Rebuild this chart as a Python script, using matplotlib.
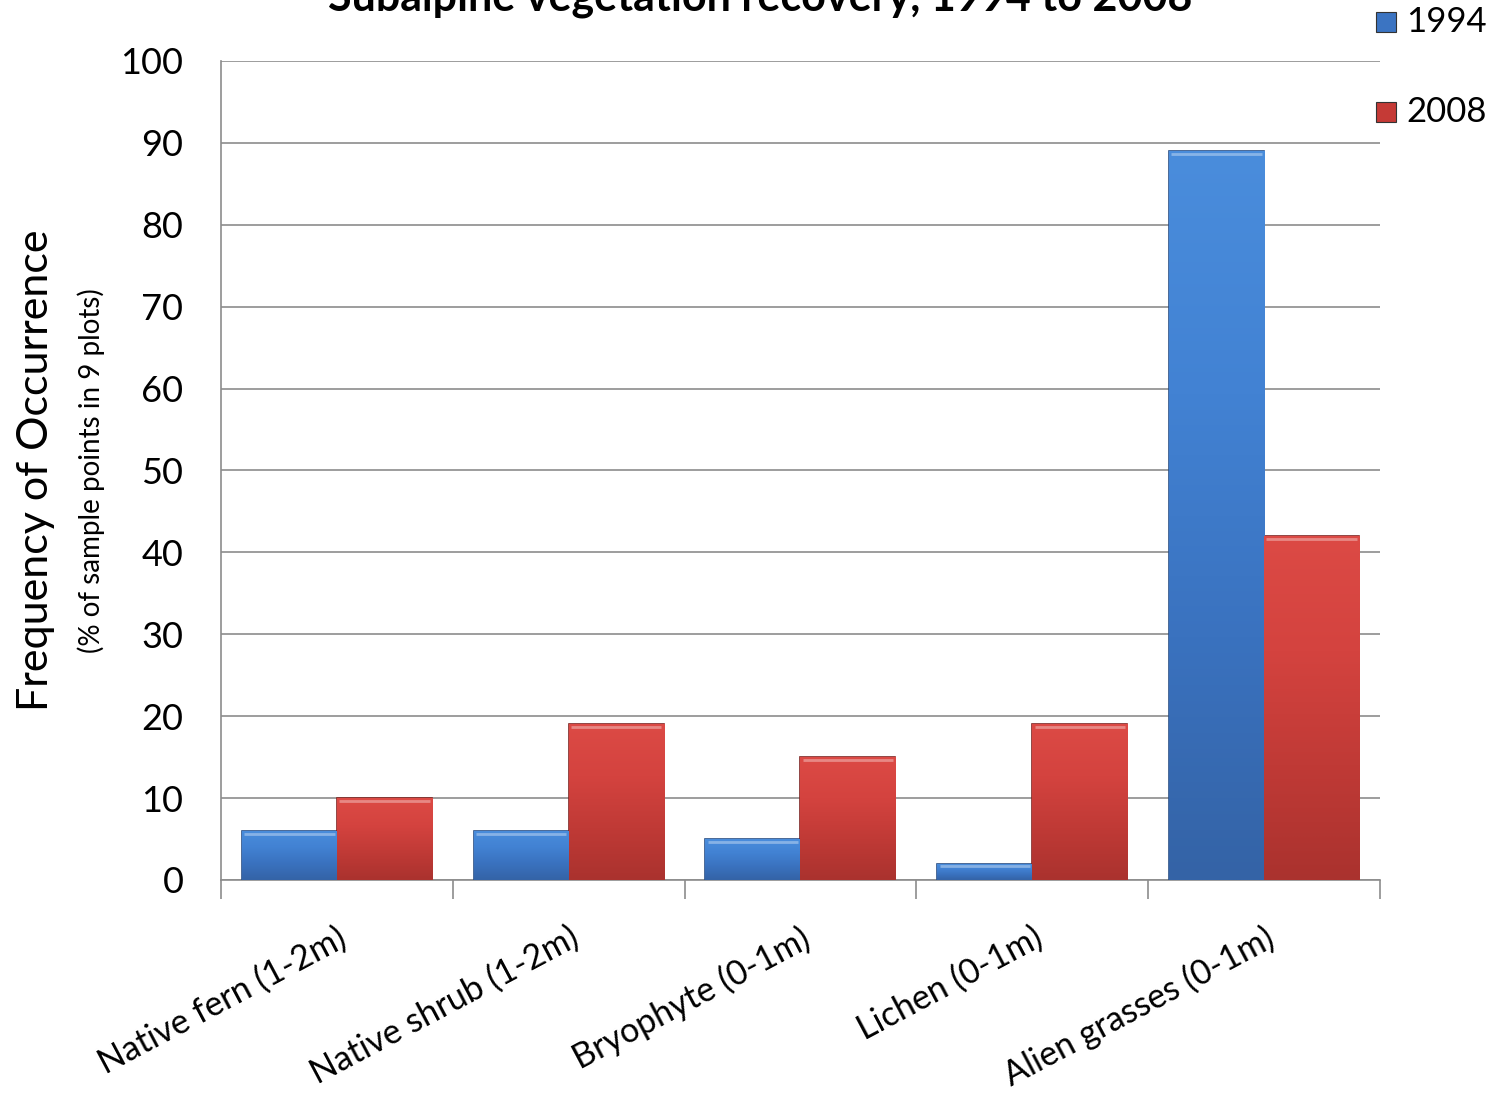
import numpy as np
import matplotlib
matplotlib.use('Agg')
import matplotlib.pyplot as plt
from matplotlib.colors import LinearSegmentedColormap

# Data
categories = ['Native fern (1-2m)', 'Native shrub (1-2m)', 'Bryophyte (0-1m)',
              'Lichen (0-1m)', 'Alien grasses (0-1m)']
series_names = ['1994', '2008']
values_1994 = [6, 6, 5, 2, 89]
values_2008 = [10, 19, 15, 19, 42]

plt.rcParams['font.family'] = ['Lato', 'DejaVu Sans']

fig = plt.figure(figsize=(14.97, 10.96), dpi=100)
ax = fig.add_axes([0.1476, 0.1971, 0.7742, 0.7473])

x = np.arange(len(categories))
bar_w = 0.41

# gradient colormaps (bottom -> top)
blue_cmap = LinearSegmentedColormap.from_list('b', ['#3463a6', '#3a72bf', '#4282d3', '#4a8ddc'])
red_cmap = LinearSegmentedColormap.from_list('r', ['#aa322e', '#c03a36', '#d4433f', '#dc4a45'])

def shaded_bars(xpos, vals, base_color, edge_color, cmap):
    bars = ax.bar(xpos, vals, width=bar_w, color=base_color, edgecolor=edge_color,
                  linewidth=1.2, zorder=3)
    for b in bars:
        x0, y0 = b.get_x(), b.get_y()
        w, h = b.get_width(), b.get_height()
        grad = np.linspace(0, 1, 256).reshape(-1, 1)
        im = ax.imshow(grad, extent=[x0, x0 + w, y0, y0 + h], origin='lower',
                       aspect='auto', cmap=cmap, zorder=3.5, interpolation='bilinear')
        im.set_clip_path(b)
        # light bevel on top
        ax.plot([x0 + 0.01, x0 + w - 0.01], [y0 + h - 0.35, y0 + h - 0.35],
                color='white', alpha=0.35, lw=2, zorder=4, solid_capstyle='butt')
    return bars

shaded_bars(x - bar_w / 2, values_1994, '#3b74c2', '#2a4f85', blue_cmap)
shaded_bars(x + bar_w / 2, values_2008, '#c53a36', '#7f2522', red_cmap)

ax.set_xlim(-0.5, len(categories) - 0.5)
ax.set_ylim(0, 100)
ax.set_yticks(np.arange(0, 101, 10))
ax.yaxis.grid(True, color='#8c8c8c', linewidth=1.2, zorder=0)
ax.set_axisbelow(True)

for s in ['top', 'right']:
    ax.spines[s].set_visible(False)
ax.spines['left'].set_color('#8c8c8c')
ax.spines['bottom'].set_color('#8c8c8c')
ax.spines['left'].set_linewidth(1.2)
ax.spines['bottom'].set_linewidth(1.2)

ax.tick_params(axis='y', length=0, labelsize=26, pad=27)
# category tick marks at boundaries
ax.set_xticks(np.arange(-0.5, len(categories), 1.0))
ax.set_xticklabels([])
ax.tick_params(axis='x', which='major', length=14, color='#8c8c8c', width=1.2, direction='out')
ax.set_xticks(x, minor=True)
ax.set_xticklabels(categories, minor=True, rotation=28, ha='right',
                   rotation_mode='anchor', fontsize=24.5)
ax.tick_params(axis='x', which='minor', length=0, pad=30)

# y labels
fig.text(0.024, 0.571, 'Frequency of Occurrence', rotation=90, fontsize=31,
         ha='center', va='center')
fig.text(0.061, 0.571, '(% of sample points in 9 plots)', rotation=90, fontsize=20,
         ha='center', va='center')

# title, clipped at the top as in the original
fig.text(0.508, 1 - 11 / 1096, 'Subalpine vegetation recovery, 1994 to 2008',
         fontsize=31, fontweight='bold', ha='center', va='baseline')

# legend
for name, col, ypix in [(series_names[0], '#3b74c2', 22), (series_names[1], '#c53a36', 112)]:
    yf = 1 - ypix / 1096
    fig.patches.append(plt.Rectangle((1376 / 1497, yf - 10 / 1096), 20 / 1497, 20 / 1096,
                                     transform=fig.transFigure, facecolor=col,
                                     edgecolor='#333333', linewidth=0.8))
    fig.text(1406 / 1497, yf, name, fontsize=25, ha='left', va='center')

fig.savefig('out.png', dpi=100)
